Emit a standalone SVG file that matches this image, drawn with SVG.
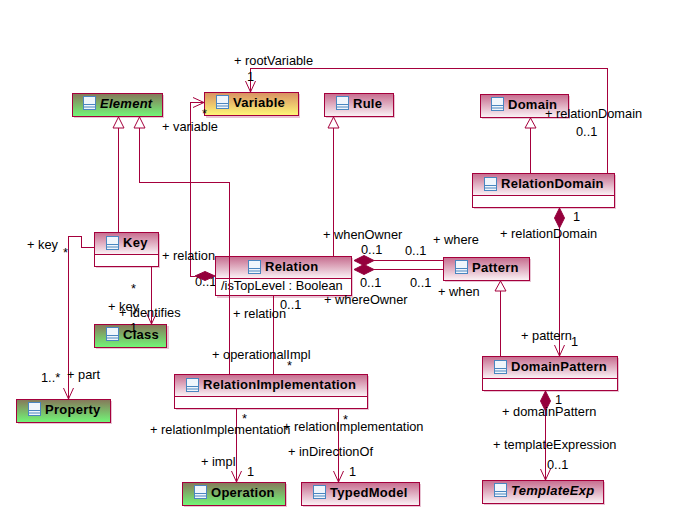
<svg xmlns="http://www.w3.org/2000/svg" width="675" height="517" viewBox="0 0 675 517">
<style>
.b{stroke:#a5003c;stroke-width:1;shape-rendering:crispEdges}
.s{fill:#e8c4d4}
.w{fill:#fff}
.n{font:bold 13px "Liberation Sans",Arial,sans-serif;letter-spacing:.27px;fill:#000}
.i{font-style:italic}
.t{font:12.8px "Liberation Sans",Arial,sans-serif;fill:#000}
.l{fill:none;stroke:#a5003c;stroke-width:1;shape-rendering:crispEdges}
.o{fill:#fff;stroke:#a5003c;stroke-width:1}
.d{fill:#95003c;stroke:#95003c;stroke-width:1}
.ir{fill:#f0f6fc;stroke:#4a86c0;stroke-width:1}
</style>
<defs>
<linearGradient id="p" x1="0" y1="0" x2="0" y2="1"><stop offset="0" stop-color="#c66c8e"/><stop offset="1" stop-color="#fbf4f7"/></linearGradient>
<linearGradient id="g" x1="0" y1="0" x2="0" y2="1"><stop offset="0" stop-color="#86775a"/><stop offset="1" stop-color="#72f878"/></linearGradient>
<linearGradient id="y" x1="0" y1="0" x2="0" y2="1"><stop offset="0" stop-color="#d88f62"/><stop offset="1" stop-color="#fff878"/></linearGradient>
<g id="ic"><rect class="ir" x="0.5" y="0.5" width="12" height="13"/><path d="M0.5 8.500H12.500M0.500 11H12.500" class="ir" fill="none"/></g>
<marker id="a" markerWidth="14" markerHeight="12" refX="12" refY="6" orient="auto" markerUnits="userSpaceOnUse"><path d="M1 1L12 6L1 11" fill="none" stroke="#a5003c" stroke-width="1"/></marker>
</defs>
<text class="t" x="195" y="286">0..1</text>
<g id="Element"><rect class="s" x="74" y="95" width="90" height="23"/><rect class="b" fill="url(#g)" x="72.500" y="93.500" width="90" height="23"/><use href="#ic" x="83" y="96"/><text class="n i" x="100" y="108">Element</text></g>
<g id="Variable"><rect class="s" x="206" y="94" width="94" height="24"/><rect class="b" fill="url(#y)" x="204.500" y="92.500" width="94" height="23"/><use href="#ic" x="216" y="95"/><text class="n" x="233" y="107">Variable</text></g>
<g id="Rule"><rect class="s" x="326" y="95" width="69" height="23"/><rect class="b" fill="url(#p)" x="324.500" y="93.500" width="69" height="23"/><use href="#ic" x="336" y="96"/><text class="n" x="353" y="108">Rule</text></g>
<g id="Domain"><rect class="s" x="482" y="96" width="88" height="23"/><rect class="b" fill="url(#p)" x="480.500" y="94.500" width="88" height="23"/><use href="#ic" x="491" y="97"/><text class="n" x="508" y="109">Domain</text></g>
<g id="RelationDomain"><rect class="s" x="474" y="175" width="142" height="34"/><rect class="b w" x="472.500" y="173.500" width="142" height="34"/><rect class="b" fill="url(#p)" x="472.500" y="173.500" width="142" height="22"/><use href="#ic" x="484" y="177"/><text class="n" x="501" y="188">RelationDomain</text></g>
<g id="Key"><rect class="s" x="96" y="234" width="64" height="34"/><rect class="b w" x="94.500" y="232.500" width="64" height="34"/><rect class="b" fill="url(#p)" x="94.500" y="232.500" width="64" height="22"/><use href="#ic" x="106" y="236"/><text class="n" x="123" y="247">Key</text></g>
<g id="Relation"><rect class="s" x="217" y="258" width="136" height="40"/><rect class="b w" x="215.500" y="256.500" width="136" height="39"/><rect class="b" fill="url(#p)" x="215.500" y="256.500" width="136" height="22"/><use href="#ic" x="248" y="260"/><text class="n" x="265" y="271">Relation</text><text class="t" x="221" y="290">/isTopLevel : Boolean</text></g>
<g id="Pattern"><rect class="s" x="445" y="259" width="86" height="23"/><rect class="b" fill="url(#p)" x="443.500" y="257.500" width="86" height="23"/><use href="#ic" x="455" y="260"/><text class="n" x="472" y="272">Pattern</text></g>
<g id="Class"><rect class="s" x="96" y="326" width="73" height="23"/><rect class="b" fill="url(#g)" x="94.500" y="324.500" width="72" height="23"/><use href="#ic" x="106" y="327"/><text class="n" x="123" y="339">Class</text></g>
<g id="Property"><rect class="s" x="18" y="401" width="94" height="23"/><rect class="b" fill="url(#g)" x="16.500" y="399.500" width="94" height="23"/><use href="#ic" x="28" y="402"/><text class="n" x="45" y="414">Property</text></g>
<g id="RelationImplementation"><rect class="s" x="176" y="376" width="193" height="34"/><rect class="b w" x="174.500" y="374.500" width="193" height="34"/><rect class="b" fill="url(#p)" x="174.500" y="374.500" width="193" height="22"/><use href="#ic" x="186" y="378"/><text class="n" x="203" y="389">RelationImplementation</text></g>
<g id="Operation"><rect class="s" x="184" y="484" width="103" height="23"/><rect class="b" fill="url(#g)" x="182.500" y="482.500" width="103" height="23"/><use href="#ic" x="194" y="485"/><text class="n" x="211" y="497">Operation</text></g>
<g id="TypedModel"><rect class="s" x="303" y="484" width="118" height="23"/><rect class="b" fill="url(#p)" x="301.500" y="482.500" width="118" height="23"/><use href="#ic" x="313" y="485"/><text class="n" x="330" y="497">TypedModel</text></g>
<g id="DomainPattern"><rect class="s" x="484" y="358" width="135" height="34"/><rect class="b w" x="482.500" y="356.500" width="135" height="34"/><rect class="b" fill="url(#p)" x="482.500" y="356.500" width="135" height="22"/><use href="#ic" x="494" y="360"/><text class="n" x="511" y="371">DomainPattern</text></g>
<g id="TemplateExp"><rect class="s" x="484" y="482" width="121" height="23"/><rect class="b" fill="url(#p)" x="482.500" y="480.500" width="121" height="23"/><use href="#ic" x="494" y="483"/><text class="n i" x="511" y="495">TemplateExp</text></g>
<g id="connectors">
<path class="l" d="M118.500 232V128"/><path class="o" d="M118.500 117L113 128H124Z"/>
<path class="l" d="M139.500 128V182.500H229.500V374"/><path class="o" d="M139.500 117L134 128H145Z"/>
<path class="l" d="M333.500 256V128"/><path class="o" d="M333.500 117L328 128H339Z"/>
<path class="l" d="M530.500 173V128"/><path class="o" d="M530.500 118L525 128H536Z"/>
<path class="l" d="M500.500 356V291"/><path class="o" d="M500.500 281L495 291H506Z"/>
<path class="l" d="M195 276.500H190.500V102.500H204"/><path d="M193 97.500L204 102.500L193 107.500" fill="none" stroke="#a5003c"/><path class="d" d="M195 276L205 271.500L215 276L205 280.500Z"/>
<path class="l" d="M607.500 173V68.500H250.500V92"/><path d="M245.500 81L250.500 92L255.500 81" fill="none" stroke="#a5003c"/>
<path class="l" d="M559.500 228V356"/><path d="M554.500 345L559.500 356L564.500 345" fill="none" stroke="#a5003c"/><path class="d" d="M559.500 208L554.500 218L559.500 228L564.500 218Z"/>
<path class="l" d="M374 260.500H443"/><path class="d" d="M354 260.500L364 255.500L374 260.500L364 265.500Z"/>
<path class="l" d="M374 269.500H443"/><path class="d" d="M354 269.500L364 264.500L374 269.500L364 274.500Z"/>
<path class="l" d="M94 247.500H81.500V236.500H68.500V399"/><path d="M63.500 388L68.500 399L73.500 388" fill="none" stroke="#a5003c"/>
<path class="l" d="M151.500 266V324"/><path d="M146.500 313L151.500 324L156.500 313" fill="none" stroke="#a5003c"/>
<path class="l" d="M273.500 296V374"/>
<path class="l" d="M236.500 408V482"/><path d="M231.500 471L236.500 482L241.500 471" fill="none" stroke="#a5003c"/>
<path class="l" d="M338.500 408V482"/><path d="M333.500 471L338.500 482L343.500 471" fill="none" stroke="#a5003c"/>
<path class="l" d="M545.500 411V480"/><path d="M540.500 469L545.500 480L550.500 469" fill="none" stroke="#a5003c"/><path class="d" d="M545.500 391L540.500 401L545.500 411L550.500 401Z"/>
</g>
<g id="labels" class="t">
<text class="t" x="234" y="65">+ rootVariable</text>
<text class="t" x="247" y="81">1</text>
<text class="t" x="162" y="131">+ variable</text>
<text class="t" x="202" y="118">*</text>
<text class="t" x="545" y="118">+ relationDomain</text>
<text class="t" x="576" y="136">0..1</text>
<text class="t" x="27" y="249">+ key</text>
<text class="t" x="63" y="257">*</text>
<text class="t" x="162" y="260">+ relation</text>
<text class="t" x="131" y="293">*</text>
<text class="t" x="323" y="239">+ whenOwner</text>
<text class="t" x="361" y="254">0..1</text>
<text class="t" x="405" y="255">0..1</text>
<text class="t" x="433" y="244">+ where</text>
<text class="t" x="360" y="287">0..1</text>
<text class="t" x="410" y="287">0..1</text>
<text class="t" x="438" y="296">+ when</text>
<text class="t" x="324" y="304">+ whereOwner</text>
<text class="t" x="500" y="238">+ relationDomain</text>
<text class="t" x="573" y="221">1</text>
<text class="t" x="280" y="309">0..1</text>
<text class="t" x="108" y="311">+ key</text>
<text class="t" x="119" y="317">+ identifies</text>
<text class="t" x="130" y="332">1</text>
<text class="t" x="233" y="318">+ relation</text>
<text class="t" x="212" y="359">+ operationalImpl</text>
<text class="t" x="287" y="370">*</text>
<text class="t" x="41" y="382">1..*</text>
<text class="t" x="67" y="379">+ part</text>
<text class="t" x="521" y="340">+ pattern</text>
<text class="t" x="571" y="346">1</text>
<text class="t" x="555" y="404">1</text>
<text class="t" x="502" y="416">+ domainPattern</text>
<text class="t" x="242" y="423">*</text>
<text class="t" x="343" y="424">*</text>
<text class="t" x="150" y="434">+ relationImplementation</text>
<text class="t" x="283" y="431">+ relationImplementation</text>
<text class="t" x="493" y="449">+ templateExpression</text>
<text class="t" x="288" y="456">+ inDirectionOf</text>
<text class="t" x="201" y="466">+ impl</text>
<text class="t" x="247" y="476">1</text>
<text class="t" x="349" y="476">1</text>
<text class="t" x="547" y="469">0..1</text>
</g>
</svg>
